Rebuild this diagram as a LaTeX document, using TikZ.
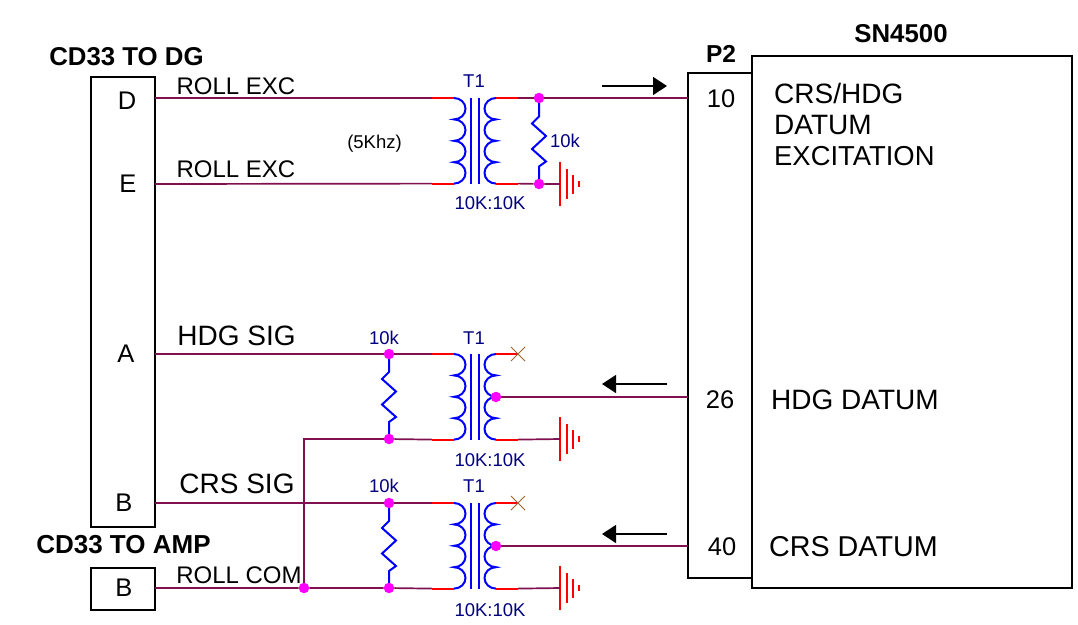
\documentclass[tikz,border=0pt]{standalone}
\usepackage{fontspec}
\setmainfont{Liberation Sans}
\usetikzlibrary{arrows.meta}
\definecolor{wirecol}{HTML}{80104F}
\definecolor{xcol}{HTML}{A0622D}
\definecolor{labcol}{HTML}{000080}
\definecolor{dotcol}{HTML}{FF00FF}
\newcommand{\txt}[1]{\fontsize{#1}{#1}\selectfont}
\tikzset{
	wire/.style={draw=wirecol,line width=1.7pt},
	lead/.style={draw=red,line width=1.8pt},
	coil/.style={draw=blue,line width=2pt},
	box/.style={draw=black,line width=1.5pt},
	dot/.style={circle,fill=dotcol,inner sep=0pt,minimum size=10.5pt},
	lbl/.style={inner sep=0pt,text=black},
	small/.style={inner sep=0pt,text=labcol,font=\txt{18.5}},
	flow/.style={draw=black,line width=1.3pt,-{Triangle[length=14pt,width=18pt]}},
	pics/xfmr/.style={code={
		\draw[coil] (0,0) arc[start angle=90,end angle=-90,x radius=11.5,y radius=10.7]
			arc[start angle=90,end angle=-90,x radius=11.5,y radius=10.7]
			arc[start angle=90,end angle=-90,x radius=11.5,y radius=10.7]
			arc[start angle=90,end angle=-90,x radius=11.5,y radius=10.7];
		\draw[coil] (42,0) arc[start angle=90,end angle=270,x radius=11.5,y radius=10.7]
			arc[start angle=90,end angle=270,x radius=11.5,y radius=10.7]
			arc[start angle=90,end angle=270,x radius=11.5,y radius=10.7]
			arc[start angle=90,end angle=270,x radius=11.5,y radius=10.7];
		\draw[coil] (17,0) -- (17,-86);
		\draw[coil] (25,0) -- (25,-86);
		\coordinate (-a) at (-22,0);
		\coordinate (-b) at (-22,-85.6);
		\coordinate (-c) at (64,0);
		\coordinate (-d) at (64,-85.6);
	}},
	pics/res/.style={code={
		\draw[coil] (0,0) -- (0,-18) -- (-7,-25) -- (7,-37.5) -- (-7,-50.5) -- (7,-63) -- (0,-68) -- (0,-85);
	}},
	pics/gnd/.style={code={
		\coordinate (-o) at (0,0);
		\foreach \x/\h in {0/22,7/15,13/9.5,19/3}
		\draw[lead] (\x,\h) -- (\x,-\h);
	}},
	pics/nc/.style={code={
		\draw[xcol,line width=0.9pt] (-7,7) -- (7,-7) (-7,-7) -- (7,7);
	}}
}
\begin{document}
\begin{tikzpicture}[x=1pt,y=1pt]
	\useasboundingbox (0,0) rectangle (1078,-624);

	% Draw the boxes
	\draw[box] (91,-77) rectangle (155,-527);
	\draw[box] (91,-568) rectangle (155,-610);
	\draw[box] (688,-73) rectangle (752,-578);
	\draw[box] (752,-56) rectangle (1072,-588);

	% Free ends of the wires
	\foreach \name/\x/\y in {pd/155/98,pe/155/184,pa/155/354,pb/155/503,pc/155/588,
		pten/688/98,ptwosix/688/397,pforty/688/546}
	\coordinate (\name) at (\x,-\y);

	% Draw the transformers
	\pic (ta) at (454,-98) {xfmr};
	\pic (tb) at (454,-354) {xfmr};
	\pic (tc) at (454,-503) {xfmr};

	% Draw the grounds
	\pic (ga) at (560,-184) {gnd};
	\pic (gb) at (560,-439) {gnd};
	\pic (gc) at (560,-588) {gnd};

	% Draw the resistors
	\pic at (539,-98.5) {res};
	\pic at (389,-354) {res};
	\pic at (389,-503) {res};

	% Draw the junctions
	\foreach \name/\x/\y in {ja/539/98,jb/539/184,jc/389/354,jd/389/439,je/389/503,jf/389/588,
		jg/496/397,jh/496/546,ji/304/588}
	\node[dot] (\name) at (\x,-\y) {};

	% Draw the wires
	\draw[wire] (pd) -- (ta-a);
	\draw[wire] (pe) -- (ta-b);
	\draw[wire] (ta-c) -- (ja) -- (pten);
	\draw[wire] (ta-d) -- (jb) -- (ga-o);
	\draw[wire] (pa) -- (jc) -- (tb-a);
	\draw[wire] (ji) |- (jd);
	\draw[wire] (jd) -- (tb-b);
	\draw[wire] (tb-d) -- (gb-o);
	\draw[wire] (jg) -- (ptwosix);
	\draw[wire] (pb) -- (je) -- (tc-a);
	\draw[wire] (pc) -- (ji) -- (jf) -- (tc-b);
	\draw[wire] (tc-d) -- (gc-o);
	\draw[wire] (jh) -- (pforty);

	% Draw the red leads of the windings
	\foreach \t in {ta,tb,tc}{
		\draw[lead] (\t-a) -- ++(22,0);
		\draw[lead] (\t-b) -- ++(22,0);
		\draw[lead] (\t-c) -- ++(-22,0);
		\draw[lead] (\t-d) -- ++(-22,0);
	}

	% Open ends of the windings
	\pic at (tb-c) {nc};
	\pic at (tc-c) {nc};

	% Draw the signal arrows
	\foreach \name/\xa/\xb/\y in {aa/602/667/86,ab/667/602/384,ac/667/602/534}{
		\coordinate (\name s) at (\xa,-\y);
		\coordinate (\name e) at (\xb,-\y);
		\draw[flow] (\name s) -- (\name e);
	}

	% Label the boxes
	\node[lbl,font=\bfseries\txt{25.8}] (cdg) at (126.5,-57) {CD33 TO DG};
	\node[lbl,font=\bfseries\txt{26}] (camp) at (123.5,-545) {CD33 TO AMP};
	\node[lbl,font=\bfseries\txt{24.5}] (ptwo) at (721,-54) {P2};
	\node[lbl,font=\bfseries\txt{25.8}] (sn) at (901,-34) {SN4500};
	\foreach \name/\x/\y/\t in {ld/127/101/D,le/128/184/E,la/126/354/A,lb/124/503/B,lc/124/588/B,
		lten/721/99/10,ltwo/720/400/26,lfour/722/547/40}
	\node[lbl,font=\txt{25.5}] (\name) at (\x,-\y) {\t};

	% Label the wires
	\node[lbl,font=\txt{24}] (wa) at (236,-86) {ROLL EXC};
	\node[lbl,font=\txt{24}] (wb) at (236,-169) {ROLL EXC};
	\node[lbl,font=\txt{24}] (wc) at (239,-575) {ROLL COM};
	\node[lbl,font=\txt{28}] (sa) at (236.5,-336) {HDG SIG};
	\node[lbl,font=\txt{28}] (sb) at (237,-484) {CRS SIG};
	\node[lbl,font=\txt{18.5}] (freq) at (374.5,-144) {(5Khz)};

	% Label the parts
	\foreach \name/\x/\y/\t in {tna/474/81/T1,tnb/474/338/T1,tnc/474/486/T1,
		ka/565/141/10k,kb/384/338/10k,kc/384/486/10k,
		ra/490/203/10K:10K,rb/490/460/10K:10K,rc/490/610/10K:10K}
	\node[small] (\name) at (\x,-\y) {\t};

	% Label the SN4500 box
	\node[lbl,anchor=west,font=\txt{28}] (da) at (774,-93) {CRS/HDG};
	\node[lbl,anchor=west,font=\txt{28}] (db) at (774,-125) {DATUM};
	\node[lbl,anchor=west,font=\txt{27.4}] (dc) at (774,-156) {EXCITATION};
	\node[lbl,anchor=west,font=\txt{28}] (dd) at (771,-400) {HDG DATUM};
	\node[lbl,anchor=west,font=\txt{28.7}] (de) at (769,-547) {CRS DATUM};
\end{tikzpicture}
\end{document}
